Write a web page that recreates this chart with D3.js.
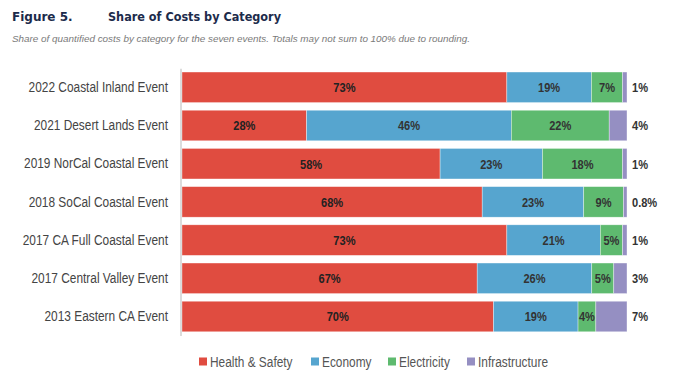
<!DOCTYPE html>
<html><head><meta charset="utf-8">
<script src="https://cdn.jsdelivr.net/npm/d3@7"></script>
<style>
html,body{margin:0;padding:0;background:#fff;}
svg{display:block;}
</style></head>
<body>
<svg id="chart" width="673" height="378"></svg>
<script>
const events = [
  "2022 Coastal Inland Event",
  "2021 Desert Lands Event",
  "2019 NorCal Coastal Event",
  "2018 SoCal Coastal Event",
  "2017 CA Full Coastal Event",
  "2017 Central Valley Event",
  "2013 Eastern CA Event"
];
const categories = ["Health & Safety", "Economy", "Electricity", "Infrastructure"];
const healthSafety   = [73, 28, 58, 68, 73, 67, 70];
const economy        = [19, 46, 23, 23, 21, 26, 19];
const electricity    = [7, 22, 18, 9, 5, 5, 4];
const infrastructure = [1, 4, 1, 0.8, 1, 3, 7];
const colors = ["#e04c40", "#56a5cf", "#5eba6f", "#958fc2"];

const seriesVals = [healthSafety, economy, electricity, infrastructure];
const rows = events.map((e, i) => {
  const o = {event: e};
  categories.forEach((c, j) => o[c] = seriesVals[j][i]);
  return o;
});

const SX = 0.82; // horizontal condensing to mimic a narrow font
const FONT = "Liberation Sans, Arial, sans-serif";

const svg = d3.select("#chart");
const x = d3.scaleLinear().domain([0, 1]).range([182, 627]);
const y = d3.scaleBand().domain(events).range([68.2, 335.6]).paddingInner(0.2).paddingOuter(0.1);
const color = d3.scaleOrdinal().domain(categories).range(colors);

const stacked = d3.stack().keys(categories).offset(d3.stackOffsetExpand)(rows);

// Title
svg.append("text").attr("x", 12).attr("y", 21)
  .attr("font-family", "DejaVu Sans, Verdana, sans-serif").attr("font-weight", "bold")
  .attr("font-size", 12).attr("fill", "#1c2b4b").text("Figure 5.");
svg.append("text").attr("x", 108).attr("y", 21)
  .attr("font-family", "DejaVu Sans, Verdana, sans-serif").attr("font-weight", "bold")
  .attr("font-size", 12).attr("fill", "#1c2b4b")
  .attr("textLength", 173).attr("lengthAdjust", "spacingAndGlyphs")
  .text("Share of Costs by Category");
svg.append("text").attr("x", 12).attr("y", 42)
  .attr("font-family", FONT).attr("font-style", "italic")
  .attr("font-size", 9.9).attr("fill", "#7a7a7a")
  .text("Share of quantified costs by category for the seven events. Totals may not sum to 100% due to rounding.");

// bars
const g = svg.append("g");
stacked.forEach(s => {
  g.selectAll(null).data(s).join("rect")
    .attr("x", d => x(d[0]))
    .attr("y", d => y(d.data.event))
    .attr("width", d => Math.max(0, x(d[1]) - x(d[0])))
    .attr("height", y.bandwidth())
    .attr("fill", color(s.key))
    .attr("stroke", "rgba(255,255,255,0.6)").attr("stroke-width", 0.6);
});

// axis
svg.append("g").attr("transform", `translate(${x(0) - 1.5},0)`)
  .call(d3.axisLeft(y).tickSize(0).tickPadding(11))
  .call(a => a.select(".domain").attr("stroke", "#dcdcdc").attr("stroke-width", 2))
  .call(a => a.selectAll("text")
    .attr("x", -12.5 / SX)
    .attr("transform", `scale(${SX},1)`)
    .attr("font-family", FONT)
    .attr("font-size", 14.5).attr("fill", "#444"));

// inside labels
stacked.slice(0, 3).forEach((s, si) => {
  g.selectAll(null).data(s).join("text")
    .attr("transform", d => `translate(${(x(d[0]) + x(d[1])) / 2},${y(d.data.event) + y.bandwidth() / 2}) scale(${SX},1)`)
    .attr("dy", "0.36em")
    .attr("text-anchor", "middle")
    .attr("font-family", FONT)
    .attr("font-weight", "bold").attr("font-size", 13.5)
    .attr("fill", si === 0 ? "#222" : "#333")
    .text(d => d.data[s.key] + "%");
});
// outside labels for infrastructure
g.selectAll(null).data(stacked[3]).join("text")
  .attr("transform", d => `translate(${x(d[1]) + 5},${y(d.data.event) + y.bandwidth() / 2}) scale(${SX},1)`)
  .attr("dy", "0.36em")
  .attr("font-family", FONT)
  .attr("font-weight", "bold").attr("font-size", 13.5)
  .attr("fill", "#333")
  .text(d => d.data.Infrastructure + "%");

// legend
const legendX = [199, 311, 388, 467];
const lg = svg.append("g");
categories.forEach((c, i) => {
  const it = lg.append("g").attr("transform", `translate(${legendX[i]},362)`);
  it.append("rect").attr("x", 0).attr("y", -4.5).attr("width", 8).attr("height", 8).attr("fill", colors[i]);
  it.append("text").attr("transform", `translate(11,0) scale(${SX},1)`).attr("dy", "0.36em")
    .attr("font-family", FONT)
    .attr("font-size", 14.5).attr("fill", "#555").text(c);
});
</script>
</body></html>
